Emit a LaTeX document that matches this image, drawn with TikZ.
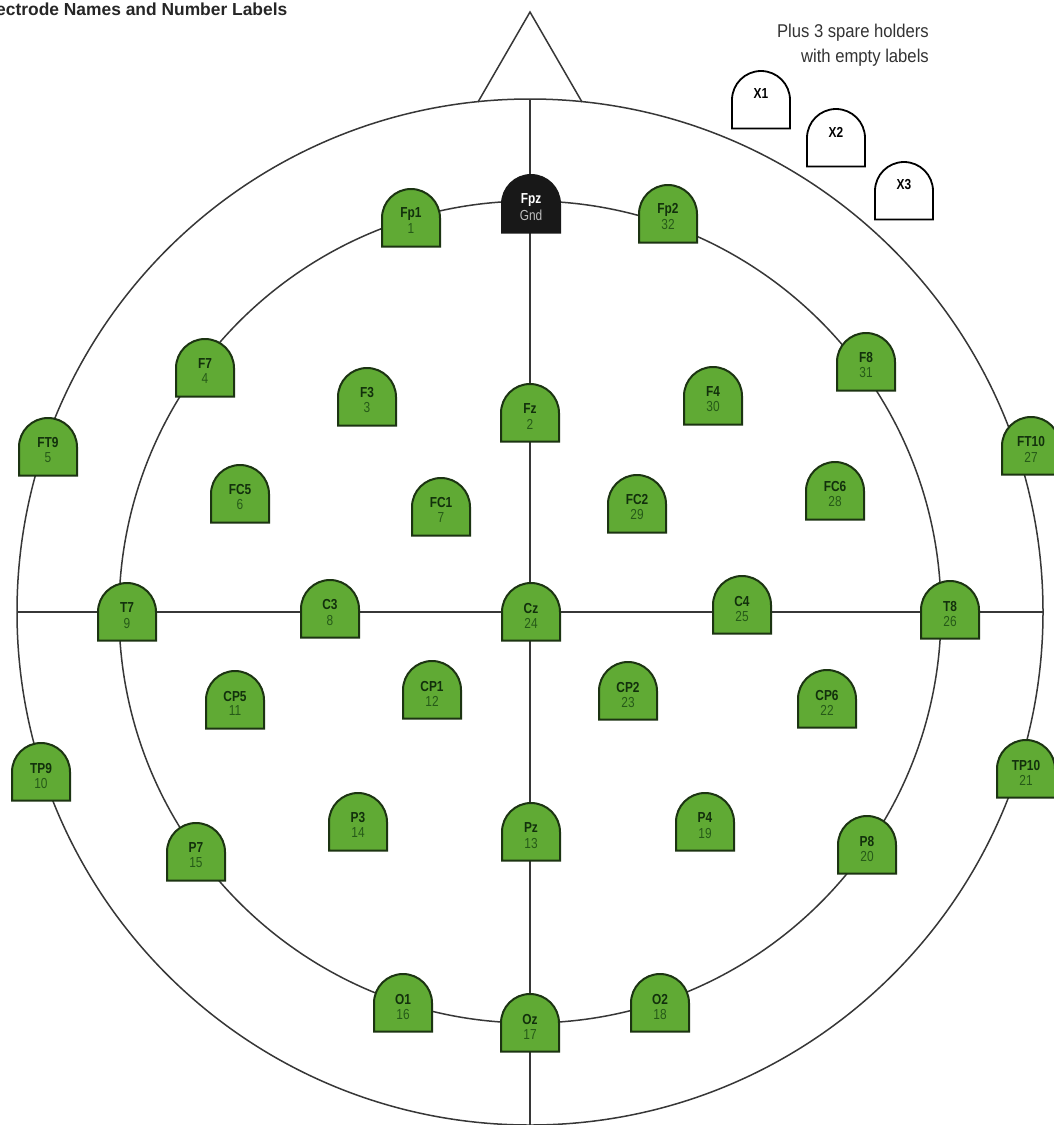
\documentclass[tikz,border=0pt]{standalone}
\usepackage{fontspec}
\setmainfont{Liberation Sans}
\newfontfamily\elecfont[FakeStretch=0.82]{Liberation Sans}
\newfontfamily\notefont[FakeStretch=0.9]{Liberation Sans}
\definecolor{egreen}{RGB}{96,170,52}
\definecolor{eborder}{RGB}{28,52,18}
\definecolor{enamec}{RGB}{18,48,12}
\definecolor{enumc}{RGB}{38,90,24}
\definecolor{linec}{RGB}{55,55,55}
\definecolor{gndfill}{RGB}{24,24,24}
\tikzset{
  lin/.style={draw=linec, line width=1.5pt},
  ebox/.style={fill=egreen, draw=eborder, line width=2pt},
  gbox/.style={fill=gndfill, draw=gndfill, line width=2pt},
  sbox/.style={fill=white, draw=black, line width=1.8pt},
  ename/.style={inner sep=0, font=\elecfont\bfseries\fontsize{14.5}{14.5}\selectfont, text=enamec},
  enum/.style={inner sep=0, font=\elecfont\fontsize{14.5}{14.5}\selectfont, text=enumc},
  sname/.style={inner sep=0, font=\elecfont\bfseries\fontsize{14.5}{14.5}\selectfont, text=black},
  dome/.pic={\path[pic actions] (-29,28.5) -- (-29,0) arc[start angle=180,end angle=360,radius=29] -- (29,28.5) -- cycle;}
}
\begin{document}
\begin{tikzpicture}[x=1pt,y=-1pt]
\useasboundingbox (0,0) rectangle (1053,1125);
\fill[white] (0,0) rectangle (1053,1125);
% head outline
\coordinate (C) at (530,612);
\coordinate (triL) at (478,102);
\coordinate (triT) at (530,12);
\coordinate (triR) at (582,102);
\coordinate (vTop) at (530,99);
\coordinate (vBot) at (530,1125);
\coordinate (hL) at (17,612);
\coordinate (hR) at (1043,612);
\draw[lin] (C) circle[radius=513];
\draw[lin] (C) circle[radius=411];
\draw[lin] (triL) -- (triT) -- (triR);
\draw[lin] (vTop) -- (vBot);
\draw[lin] (hL) -- (hR);
% title and note
\node[anchor=base east, inner sep=0, font=\bfseries\fontsize{17.4}{17.4}\selectfont, text=black!85] (title) at (287.5,15) {Electrode Names and Number Labels};
\node[anchor=north east, align=right, inner sep=0, font=\notefont\fontsize{18.5}{25}\selectfont, text=black!80] (note) at (929,24) {Plus 3 spare holders\\with empty labels};
% electrodes
\foreach \n/\x/\y/\k in {
  Fp1/411/218/1, Fp2/668/214/32,
  F7/205/368/4, F3/367/397/3, Fz/530/413/2, F4/713/396/30, F8/866/362/31,
  FT9/48/447/5, FT10/1031/446/27,
  FC5/240/494/6, FC1/441/507/7, FC2/637/504/29, FC6/835/491/28,
  T7/127/612/9, C3/330/609/8, Cz/531/612/24, C4/742/605/25, T8/950/610/26,
  CP5/235/700/11, CP1/432/690/12, CP2/628/691/23, CP6/827/699/22,
  TP9/41/772/10, TP10/1026/769/21,
  P3/358/822/14, Pz/531/832/13, P4/705/822/19,
  P7/196/852/15, P8/867/845/20,
  O1/403/1003/16, Oz/530/1023/17, O2/660/1003/18}{
  \pic[ebox] at (\x,\y) {dome};
  \node[ename] (\n) at (\x,\y-4) {\n};
  \node[enum] (\n-num) at (\x,\y+11) {\k};
}
% ground electrode
\pic[gbox] at (531,204) {dome};
\node[ename, text=white] (Fpz) at (531,200) {Fpz};
\node[enum, text=black!25] (Fpz-num) at (531,215) {Gnd};
% spare holders
\foreach \n/\x/\y in {X1/761/100, X2/836/138, X3/904/191}{
  \pic[sbox] at (\x,\y) {dome};
  \node[sname] (\n) at (\x,\y-6) {\n};
}
\end{tikzpicture}
\end{document}
